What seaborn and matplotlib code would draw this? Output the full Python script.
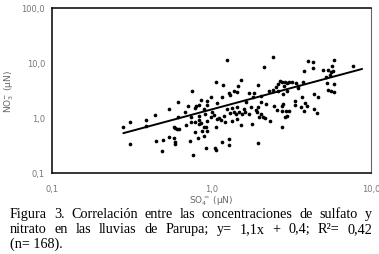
import matplotlib
matplotlib.use("Agg")
import matplotlib.pyplot as plt
import seaborn as sns
import pandas as pd
from matplotlib.ticker import LogLocator, NullFormatter

# ---- data ----
so4 = [0.28, 0.31, 0.31, 0.39, 0.39, 0.44, 0.45, 0.49, 0.50, 0.54,
       0.58, 0.58, 0.59, 0.61, 0.63, 0.59, 0.59, 0.62, 0.68, 0.71,
       0.69, 0.73, 0.74, 0.80, 0.79, 0.84, 0.86, 0.94, 0.94, 1.09,
       1.25, 1.30, 0.79, 0.84, 0.86, 0.84, 0.90, 0.93, 0.94, 0.87,
       0.79, 0.82, 0.90, 0.92, 0.99, 1.01, 1.09, 1.12, 1.14, 1.20,
       1.22, 1.07, 1.17, 1.05, 1.06, 1.28, 1.28, 0.77, 1.39, 1.42,
       1.35, 1.44, 1.52, 1.56, 1.60, 1.64, 1.73, 1.79, 1.90, 1.93,
       1.95, 1.99, 2.03, 2.10, 2.15, 2.32, 1.95, 2.20, 2.75, 2.80,
       2.75, 2.89, 2.75, 3.33, 3.33, 3.86, 4.39, 4.58, 1.25, 2.42,
       2.13, 1.54, 1.07, 1.18, 1.47, 0.76, 1.00, 1.29, 1.30, 1.39,
       1.44, 1.17, 1.97, 1.73, 1.84, 2.30, 2.52, 2.62, 2.42, 2.60,
       2.03, 1.82, 4.0, 4.3, 4.3, 5.9, 5.7, 5.0, 5.4, 5.8,
       5.65, 5.55, 5.25, 3.8, 7.7, 2.68, 2.78, 2.89, 2.99, 3.07,
       3.18, 2.85, 3.4, 3.48, 3.75, 2.96, 2.80, 3.5, 3.7, 5.3,
       5.9, 5.4, 5.65, 4.4, 4.65, 5.9, 0.90, 0.915, 0.83, 1.03,
       1.35, 1.44, 1.49, 1.62, 1.76, 2.03, 2.47, 2.58, 2.93, 3.05,
       2.99, 3.63, 3.8, 3.95, 0.94, 0.74, 0.62, 0.54]
no3 = [0.70, 0.85, 0.34, 0.93, 0.73, 1.15, 0.38, 0.25, 0.40, 0.45,
       0.43, 0.68, 0.66, 0.63, 0.63, 0.36, 0.34, 1.03, 1.27, 1.64,
       0.75, 0.38, 0.84, 1.68, 1.50, 1.75, 2.12, 2.06, 1.75, 1.88,
       1.46, 1.23, 0.84, 0.93, 0.81, 0.78, 0.70, 0.70, 0.59, 0.58,
       0.56, 0.43, 0.47, 0.29, 1.03, 1.27, 0.96, 1.00, 0.93, 1.08,
       0.85, 0.68, 0.36, 0.28, 0.26, 0.42, 0.32, 0.21, 1.27, 1.18,
       0.89, 0.96, 0.75, 1.18, 1.46, 1.92, 1.18, 0.78, 1.40, 1.30,
       1.56, 1.03, 1.92, 1.03, 0.99, 0.89, 0.35, 1.80, 1.68, 1.80,
       1.36, 1.03, 0.70, 2.00, 1.73, 1.88, 1.46, 1.23, 11.5, 12.7,
       8.6, 4.9, 4.6, 3.9, 3.8, 3.1, 2.44, 2.8, 2.6, 3.06,
       2.93, 2.44, 4.0, 2.81, 2.81, 3.06, 3.6, 4.15, 3.23, 3.06,
       2.50, 2.44, 10.8, 10.3, 8.1, 11.3, 8.9, 7.5, 7.4, 7.1,
       6.8, 6.1, 5.6, 7.1, 8.9, 4.8, 4.6, 4.6, 4.3, 4.6,
       4.6, 3.86, 4.3, 3.86, 4.45, 3.14, 2.73, 3.5, 2.44, 4.3,
       4.15, 3.23, 3.06, 2.73, 2.44, 2.93, 1.46, 1.18, 1.10, 1.15,
       1.55, 1.56, 1.27, 1.30, 1.56, 1.18, 1.68, 1.40, 1.36, 1.36,
       1.10, 1.56, 1.36, 1.68, 0.89, 1.03, 1.94, 1.46]
fit_x = [0.28, 8.8]
fit_y = [0.53, 7.8]

y_ticks = [0.1, 1, 10, 100]
y_tick_labels = ["0,1", "1,0", "10,0", "100,0"]
x_ticks = [0.1, 1, 10]
x_tick_labels = ["0,1", "1,0", "10,0"]

caption_lines = [
    "Figura 3. Correlación entre las concentraciones de sulfato y",
    "nitrato en las lluvias de Parupa; y= 1,1x + 0,4; R²= 0,42",
    "(n= 168).",
]

# ---- figure ----
sns.set_style("white")
plt.rcParams["font.family"] = ["DejaVu Sans"]

W, H = 379, 255
fig = plt.figure(figsize=(W / 100, H / 100), dpi=100)
ax = fig.add_axes([52 / W, 1 - 174 / H, (371 - 52) / W, (174 - 9) / H])

df = pd.DataFrame({"so4": so4, "no3": no3})
sns.scatterplot(data=df, x="so4", y="no3", ax=ax, color="black",
                s=7, marker="o", linewidth=0, zorder=3)
fit = pd.DataFrame({"x": fit_x, "y": fit_y})
sns.lineplot(data=fit, x="x", y="y", ax=ax, color="black", lw=1.4, zorder=4)

ax.set_xscale("log")
ax.set_yscale("log")
ax.set_xlim(0.1, 10)
ax.set_ylim(0.1, 100)

ax.set_xticks(x_ticks)
ax.set_xticklabels(x_tick_labels)
ax.set_yticks(y_ticks)
ax.set_yticklabels(y_tick_labels)
ax.xaxis.set_minor_locator(LogLocator(base=10, subs=range(2, 10)))
ax.yaxis.set_minor_locator(LogLocator(base=10, subs=range(2, 10)))
ax.xaxis.set_minor_formatter(NullFormatter())
ax.yaxis.set_minor_formatter(NullFormatter())

ax.tick_params(which="both", direction="in", color="#333333", width=0.6,
               labelsize=6, labelcolor="#777777")
ax.tick_params(which="major", length=3)
ax.tick_params(which="minor", length=2)
ax.tick_params(axis="x", which="both", pad=8, top=False)
ax.tick_params(axis="y", which="both", pad=5, right=False)

for side in ["left", "bottom", "top"]:
    ax.spines[side].set_color("black")
    ax.spines[side].set_linewidth(1.1)
ax.spines["right"].set_color("#666666")
ax.spines["right"].set_linewidth(0.8)

ax.set_xlabel("SO$_4^{=}$ (μN)", fontsize=6.5, color="#666666", labelpad=0)
ax.set_ylabel("NO$_3^{-}$ (μN)", fontsize=6.5, color="#666666", labelpad=4)
ax.grid(False)

# ---- caption, justified like the source ----
fig.canvas.draw()
r = fig.canvas.get_renderer()
cap_kw = dict(fontsize=10.2, family="Liberation Serif", color="black",
              va="baseline", ha="left")
baselines = [218, 233, 248]
x0, x1 = 10, 372
for i, line in enumerate(caption_lines):
    yb = 1 - baselines[i] / H
    if i < 2:
        words = line.split(" ")
        texts = [fig.text(0, yb, w, **cap_kw) for w in words]
        widths = [t.get_window_extent(r).width for t in texts]
        gap = ((x1 - x0) - sum(widths)) / (len(words) - 1)
        xp = x0
        for t, w in zip(texts, widths):
            t.set_x(xp / W)
            xp += w + gap
    else:
        fig.text(x0 / W, yb, line, **cap_kw)

fig.savefig("out.png", dpi=100)
